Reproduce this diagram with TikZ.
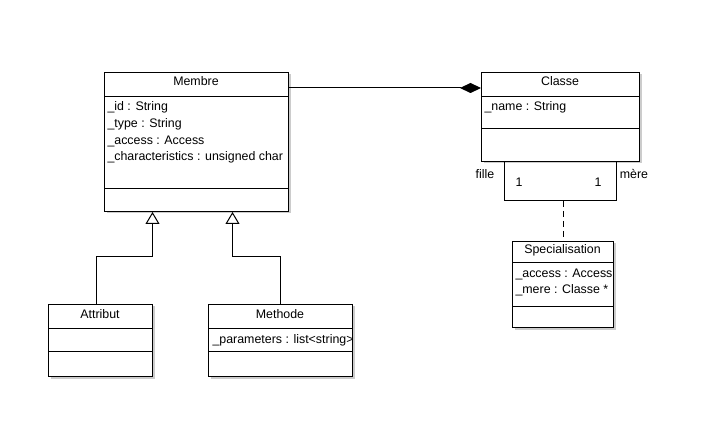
\documentclass[tikz,border=0pt]{standalone}
\usepackage{fontspec}
\setmainfont{Liberation Sans}
\usetikzlibrary{arrows.meta,shadows,calc}
\begin{document}
\begin{tikzpicture}[x=1pt,y=-1pt, font=\fontsize{12.4}{14}\selectfont, line width=1pt,
  classbox/.style={draw, fill=white, anchor=north west, inner sep=0pt,
    drop shadow={shadow xshift=2pt, shadow yshift=-2pt, fill=black!20, opacity=1}},
  hdr/.style={anchor=base, inner sep=0pt},
  attr/.style={anchor=base west, inner sep=0pt},
  lbl/.style={anchor=base, inner sep=0pt},
  gen/.style={-{Triangle[open,length=12pt,width=14pt,line width=1pt]}},
  comp/.style={-{Diamond[length=21pt,width=10pt]}},
  dep/.style={dash pattern=on 6pt off 4pt}]
\useasboundingbox[fill=white] (0,0) rectangle (712,430);

% Boxes
\node[classbox, minimum width=184pt, minimum height=139pt] (membre) at (104,72) {};
\node[classbox, minimum width=158pt, minimum height=89pt] (classe) at (481,72) {};
\node[classbox, minimum width=101pt, minimum height=86pt] (spec) at (512,241) {};
\node[classbox, minimum width=104pt, minimum height=72pt] (attribut) at (48,304) {};
\node[classbox, minimum width=144pt, minimum height=72pt] (methode) at (208,304) {};

% Compartments
\draw ([yshift=-25pt]membre.north west) -- ([yshift=-25pt]membre.north east);
\draw ([yshift=-117pt]membre.north west) -- ([yshift=-117pt]membre.north east);
\draw ([yshift=-25pt]classe.north west) -- ([yshift=-25pt]classe.north east);
\draw ([yshift=-57pt]classe.north west) -- ([yshift=-57pt]classe.north east);
\draw ([yshift=-22pt]spec.north west) -- ([yshift=-22pt]spec.north east);
\draw ([yshift=-66pt]spec.north west) -- ([yshift=-66pt]spec.north east);
\draw ([yshift=-24pt]attribut.north west) -- ([yshift=-24pt]attribut.north east);
\draw ([yshift=-47pt]attribut.north west) -- ([yshift=-47pt]attribut.north east);
\draw ([yshift=-24pt]methode.north west) -- ([yshift=-24pt]methode.north east);
\draw ([yshift=-47pt]methode.north west) -- ([yshift=-47pt]methode.north east);

% Texts
\node[hdr] (tmembre) at (196,86) {Membre};
\node[attr] (a1) at (107,111) {\_id : String};
\node[attr] (a2) at (107,127.7) {\_type : String};
\node[attr] (a3) at (107,144.3) {\_access : Access};
\node[attr] (a4) at (107,161) {\_characteristics : unsigned char};

\node[hdr] (tclasse) at (560,86) {Classe};
\node[attr] (c1) at (484,111) {\_name : String};

\node[hdr] (tspec) at (562.5,254) {Specialisation};
\begin{scope}
\clip (spec.north west) rectangle (spec.south east);
\node[attr] (s1) at (515,278) {\_access : Access};
\node[attr] (s2) at (515,294) {\_mere : Classe *};
\end{scope}

\node[hdr] (tattr) at (100,318) {Attribut};
\node[hdr] (tmeth) at (280,318) {Methode};
\begin{scope}
\clip (methode.north west) rectangle (methode.south east);
\node[attr] (m1) at (212,343) {\_parameters : list<string>};
\end{scope}

% Composition
\draw[comp] ([yshift=-16pt]membre.north east) -- ([yshift=-16pt]classe.north west);

% Generalizations
\draw[gen] ([xshift=-4pt]attribut.north) -- ++(0,-47) -| ([xshift=-44pt]membre.south);
\draw[gen] (methode.north) -- ++(0,-47) -| ([xshift=36pt]membre.south);

% Self association
\draw ([xshift=-56pt]classe.south) -- ++(0,39) -| ([xshift=56pt]classe.south);
\coordinate (loopmid) at ([yshift=-39pt]classe.south);
\draw[dep] (spec.north |- loopmid) -- (spec.north);
\node[lbl] (lfille) at (485,179) {fille};
\node[lbl] (lmere) at (634,179) {mère};
\node[lbl] (l1) at (519,186.7) {1};
\node[lbl] (l2) at (598,186.7) {1};
\end{tikzpicture}
\end{document}
